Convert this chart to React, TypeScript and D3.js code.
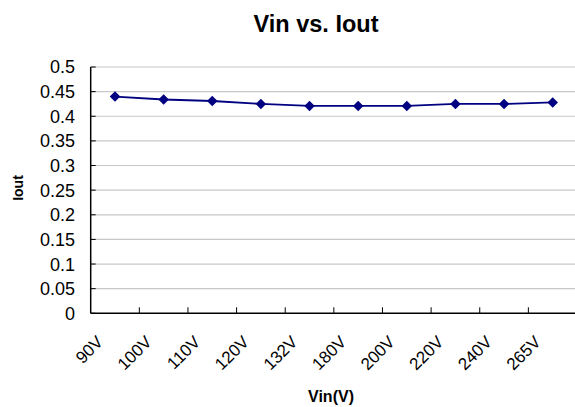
import { useEffect, useRef } from "react";
import * as d3 from "d3";

const categories = ["90V", "100V", "110V", "120V", "132V", "180V", "200V", "220V", "240V", "265V"];
const iout = [0.44, 0.434, 0.431, 0.425, 0.421, 0.421, 0.421, 0.425, 0.425, 0.428];
const yTicks = [0, 0.05, 0.1, 0.15, 0.2, 0.25, 0.3, 0.35, 0.4, 0.45, 0.5];

const font = "'Liberation Sans', Arial, sans-serif";

export default function App() {
  const svgRef = useRef<SVGSVGElement>(null);

  useEffect(() => {
    document.body.style.margin = "0";
    const svg = svgRef.current;
    if (!svg) return;
    d3.select(svg).selectAll("*").remove();

    const left = 90.7;
    const right = 577;
    const top = 67;
    const bottom = 313.3;

    const x = d3.scaleBand<string>().domain(categories).range([left, right]);
    const y = d3.scaleLinear().domain([0, 0.5]).range([bottom, top]);
    const cx = (c: string) => (x(c) ?? 0) + x.bandwidth() / 2;

    const s = d3.select(svg);

    // gridlines
    s.append("g")
      .selectAll("line")
      .data(yTicks.slice(1))
      .enter()
      .append("line")
      .attr("x1", left)
      .attr("x2", right)
      .attr("y1", (d) => y(d))
      .attr("y2", (d) => y(d))
      .attr("stroke", "#c8c8c8")
      .attr("stroke-width", 1.2);

    // y ticks (inward)
    s.append("g")
      .selectAll("line")
      .data(yTicks)
      .enter()
      .append("line")
      .attr("x1", left)
      .attr("x2", left + 5)
      .attr("y1", (d) => y(d))
      .attr("y2", (d) => y(d))
      .attr("stroke", "#000")
      .attr("stroke-width", 1);

    // x ticks between categories (inward)
    s.append("g")
      .selectAll("line")
      .data(categories.slice(1))
      .enter()
      .append("line")
      .attr("x1", (d) => x(d) ?? 0)
      .attr("x2", (d) => x(d) ?? 0)
      .attr("y1", bottom)
      .attr("y2", bottom - 6)
      .attr("stroke", "#000")
      .attr("stroke-width", 1);

    // axes
    s.append("line")
      .attr("x1", left).attr("x2", left)
      .attr("y1", top).attr("y2", bottom)
      .attr("stroke", "#000").attr("stroke-width", 1.5);
    s.append("line")
      .attr("x1", left).attr("x2", right)
      .attr("y1", bottom).attr("y2", bottom)
      .attr("stroke", "#000").attr("stroke-width", 1.5);

    // y tick labels
    s.append("g")
      .selectAll("text")
      .data(yTicks)
      .enter()
      .append("text")
      .attr("x", 75)
      .attr("y", (d) => y(d))
      .attr("dy", "0.36em")
      .attr("text-anchor", "end")
      .attr("font-family", font)
      .attr("font-size", 18)
      .attr("fill", "#000")
      .text((d) => String(d));

    // x tick labels
    s.append("g")
      .selectAll("text")
      .data(categories)
      .enter()
      .append("text")
      .attr("transform", (d) => `translate(${cx(d) - 11},343) rotate(-45)`)
      .attr("text-anchor", "end")
      .attr("font-family", font)
      .attr("font-size", 17)
      .attr("fill", "#000")
      .text((d) => d);

    // line
    const line = d3
      .line<number>()
      .x((_, i) => cx(categories[i]))
      .y((d) => y(d));
    s.append("path")
      .datum(iout)
      .attr("d", line)
      .attr("fill", "none")
      .attr("stroke", "#000080")
      .attr("stroke-width", 1.8);

    // diamond markers
    s.append("g")
      .selectAll("path")
      .data(iout)
      .enter()
      .append("path")
      .attr("d", d3.symbol().type(d3.symbolDiamond2).size(70)())
      .attr("transform", (d, i) => `translate(${cx(categories[i])},${y(d)})`)
      .attr("fill", "#000080");

    // title
    s.append("text")
      .attr("x", 316)
      .attr("y", 32)
      .attr("text-anchor", "middle")
      .attr("font-family", font)
      .attr("font-weight", "bold")
      .attr("font-size", 23.5)
      .text("Vin vs. Iout");

    // axis titles
    s.append("text")
      .attr("x", 331)
      .attr("y", 402)
      .attr("text-anchor", "middle")
      .attr("font-family", font)
      .attr("font-weight", "bold")
      .attr("font-size", 16)
      .text("Vin(V)");

    s.append("text")
      .attr("transform", "translate(23,188) rotate(-90)")
      .attr("text-anchor", "middle")
      .attr("font-family", font)
      .attr("font-weight", "bold")
      .attr("font-size", 14)
      .text("Iout");
  }, []);

  return <svg ref={svgRef} width={575} height={407} style={{ display: "block", background: "#fff" }} />;
}
